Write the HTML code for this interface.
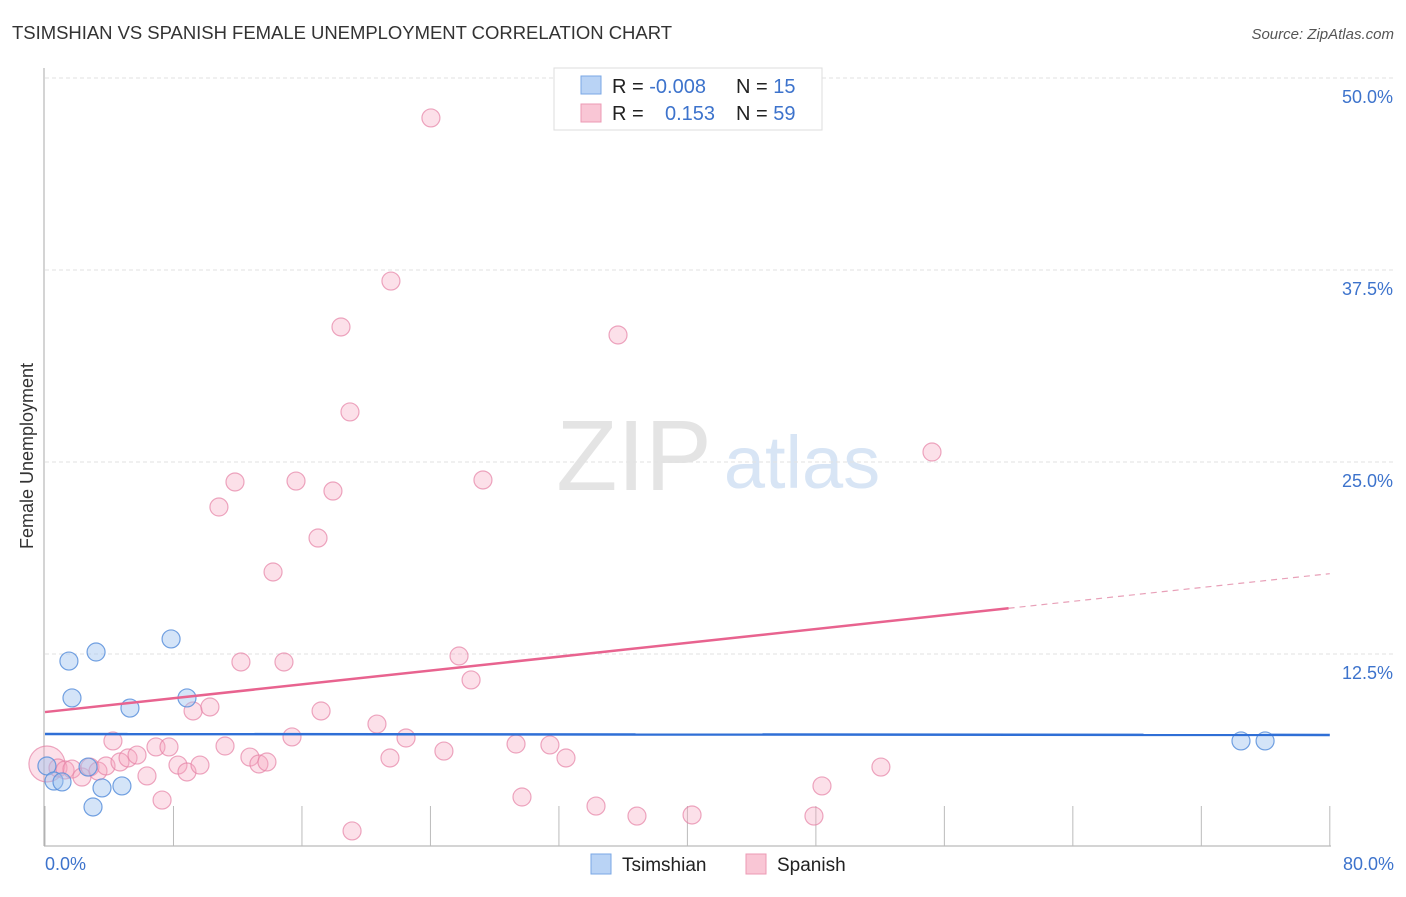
<!DOCTYPE html>
<html><head><meta charset="utf-8"><style>
body{margin:0;background:#fff;font-family:"Liberation Sans",sans-serif;}
svg text{font-family:"Liberation Sans",sans-serif;}
</style></head><body>
<svg id="c" width="1406" height="892">
<text x="12" y="39" font-size="18.5" fill="#333" textLength="660">TSIMSHIAN VS SPANISH FEMALE UNEMPLOYMENT CORRELATION CHART</text>
<text x="1394" y="39" font-size="15" fill="#555" text-anchor="end" font-style="italic">Source: ZipAtlas.com</text>
<text x="634" y="490" font-size="100" fill="#e4e4e4" text-anchor="middle" font-family="Liberation Serif">ZIP</text>
<text x="802" y="488" font-size="74" fill="#d8e5f5" text-anchor="middle">atlas</text>
<text transform="translate(33,456) rotate(-90)" font-size="18" fill="#333" text-anchor="middle">Female Unemployment</text>
<g id="grid"></g><g id="axes"></g><g id="pts"></g><g id="lines"></g>
<g>
<rect x="554" y="68" width="268" height="62" fill="#fff" stroke="#ddd"/>
<rect x="581" y="76" width="20" height="18" fill="#b9d3f5" stroke="#7aa7e5"/>
<rect x="581" y="104" width="20" height="18" fill="#f9c6d5" stroke="#ec9ab4"/>
<text x="612" y="93" font-size="20" fill="#222">R = <tspan fill="#3d73cc">-0.008</tspan></text>
<text x="736" y="93" font-size="20" fill="#222">N = <tspan fill="#3d73cc"> 15</tspan></text>
<text x="612" y="120" font-size="20" fill="#222">R = <tspan fill="#3d73cc" x="665">0.153</tspan></text>
<text x="736" y="120" font-size="20" fill="#222">N = <tspan fill="#3d73cc">59</tspan></text>
</g>
<g>
<rect x="591" y="854" width="20" height="20" fill="#b9d3f5" stroke="#7aa7e5"/>
<text x="622" y="871" font-size="19" fill="#222">Tsimshian</text>
<rect x="746" y="854" width="20" height="20" fill="#f9c6d5" stroke="#ec9ab4"/>
<text x="777" y="871" font-size="19" fill="#222">Spanish</text>
</g>
</svg>
<script>
const blueX=[0.12,0.56,1.06,1.49,1.68,2.68,2.99,3.18,3.55,4.79,5.29,7.85,8.84,74.47,75.97];
const blueY=[5.21,4.23,4.17,12.04,9.64,5.14,2.54,12.63,3.78,3.91,8.98,13.48,9.64,6.84,6.84];
const pinkX=[0.12,0.81,1.25,1.68,2.30,2.80,3.30,3.80,4.23,4.67,5.17,5.73,6.35,6.91,7.29,7.72,8.28,8.84,9.22,9.65,10.27,11.21,10.83,11.83,12.20,12.76,13.32,13.82,14.20,14.88,15.38,15.63,17.00,17.19,17.93,18.43,18.99,19.12,20.67,21.48,21.54,22.48,24.03,24.84,25.78,26.53,27.27,29.70,29.33,31.44,32.44,34.31,35.68,36.86,40.29,47.88,48.38,52.05,55.23];
const pinkY=[5.34,5.08,4.95,5.01,4.49,5.14,4.88,5.21,6.84,5.47,5.73,5.92,4.56,6.45,2.99,6.45,5.27,4.82,8.79,5.27,9.05,6.51,22.07,23.70,11.98,5.79,5.34,5.47,17.84,11.98,7.10,23.76,20.05,8.79,23.11,33.79,28.26,0.98,7.94,5.73,36.78,7.03,47.40,6.18,12.37,10.81,23.83,3.19,6.64,6.58,5.73,2.60,33.27,1.95,2.02,1.95,3.91,5.14,25.65];
const yTicks=[12.5,25.0,37.5,50.0];
const xTickLabels=["0.0%","80.0%"];
const blueTrend=[7.29,7.23];
const pinkTrend=[8.72,17.73];
const X=v=>45+v*16.06, Y=v=>846-v*15.36;
const NS="http://www.w3.org/2000/svg";
function mk(t,a,p){const e=document.createElementNS(NS,t);for(const k in a)e.setAttribute(k,a[k]);p.appendChild(e);return e;}
const grid=document.getElementById('grid'),axes=document.getElementById('axes'),pts=document.getElementById('pts'),lines=document.getElementById('lines');
yTicks.forEach(v=>{
 const l=mk('line',{x1:45,x2:1394,y1:Y(v),y2:Y(v),stroke:'#e2e2e2','stroke-dasharray':'4,3'},grid);
 
 
 const t=mk('text',{x:1393,y:Y(v)+25,'font-size':18,fill:'#3d73cc','text-anchor':'end'},grid);
 t.textContent=v.toFixed(1)+'%';
 
 
});
mk('line',{x1:44,x2:44,y1:68,y2:846,stroke:'#aaa'},axes);
mk('line',{x1:44,x2:1331,y1:846,y2:846,stroke:'#aaa'},axes);
for(let i=0;i<=10;i++){mk('line',{x1:X(i*8),x2:X(i*8),y1:806,y2:846,stroke:'#bbb'},axes);}
const t0=mk('text',{x:45,y:870,'font-size':18,fill:'#3d73cc'},axes);t0.textContent=xTickLabels[0];


const t1=mk('text',{x:1394,y:870,'font-size':18,fill:'#3d73cc','text-anchor':'end'},axes);t1.textContent=xTickLabels[1];


pinkX.forEach((x,i)=>{
 const c=mk('circle',{cx:X(x),cy:Y(pinkY[i]),r:i===0?18:9,fill:'rgba(245,165,192,0.35)',stroke:'rgba(230,130,165,0.7)','stroke-width':1.2},pts);
 
 
});
blueX.forEach((x,i)=>{
 const c=mk('circle',{cx:X(x),cy:Y(blueY[i]),r:9,fill:'rgba(160,195,240,0.45)',stroke:'rgba(90,145,220,0.85)','stroke-width':1.2},pts);
 
 
});
const bl=mk('line',{x1:X(0),x2:X(80),y1:Y(blueTrend[0]),y2:Y(blueTrend[1]),stroke:'#2f6fd6','stroke-width':2.5},lines);


const pm=pinkTrend[0]+(pinkTrend[1]-pinkTrend[0])*60/80;
const pl=mk('line',{x1:X(0),x2:X(60),y1:Y(pinkTrend[0]),y2:Y(pm),stroke:'#e8638f','stroke-width':2.5},lines);


const pd=mk('line',{x1:X(60),x2:X(80),y1:Y(pm),y2:Y(pinkTrend[1]),stroke:'#e8a0b8','stroke-width':1.2,'stroke-dasharray':'6,5'},lines);


</script>
</body></html>
